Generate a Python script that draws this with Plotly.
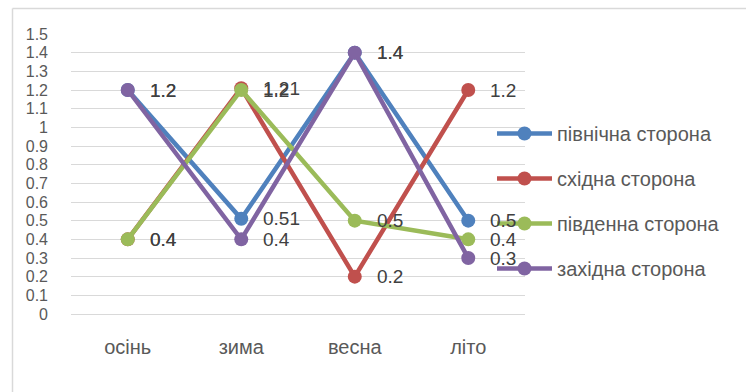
import plotly.graph_objects as go

categories = ["осінь", "зима", "весна", "літо"]
series_names = ["північна сторона", "східна сторона", "південна сторона", "західна сторона"]
north = [1.2, 0.51, 1.4, 0.5]
east = [0.4, 1.21, 0.2, 1.2]
south = [0.4, 1.2, 0.5, 0.4]
west = [1.2, 0.4, 1.4, 0.3]
colors = ["#4F81BD", "#C0504D", "#9BBB59", "#8064A2"]
y_tickvals = [0, 0.1, 0.2, 0.3, 0.4, 0.5, 0.6, 0.7, 0.8, 0.9, 1.0, 1.1, 1.2, 1.3, 1.4, 1.5]
y_ticktext = ["0", "0.1", "0.2", "0.3", "0.4", "0.5", "0.6", "0.7", "0.8", "0.9", "1",
              "1.1", "1.2", "1.3", "1.4", "1.5"]

W, H = 746, 392
L, R, T, B = 71, 221, 34, 78
FONT = "Liberation Sans"

fig = go.Figure()
annotations = []
for name, vals, col in zip(series_names, [north, east, south, west], colors):
    fig.add_trace(go.Scatter(
        x=categories, y=vals, name=name, mode="lines+markers",
        line=dict(color=col, width=4.5),
        marker=dict(color=col, size=14),
        legendgroup=name, cliponaxis=False,
    ))
    for c, v in zip(categories, vals):
        annotations.append(dict(
            x=c, y=v, xref="x", yref="y", text=f"{v:g}", showarrow=False,
            xanchor="left", yanchor="middle", xshift=20,
            font=dict(family=FONT, size=19, color="#404040"),
        ))

pw = W - L - R
ph = H - T - B
def px_x(p):
    return (p - L) / pw
def px_y(p):
    return 1 - (p - T) / ph

shapes = [
    dict(type="line", xref="paper", yref="paper", x0=px_x(12.5), x1=px_x(746),
         y0=px_y(8.5), y1=px_y(8.5), line=dict(color="#D9D9D9", width=1.5)),
    dict(type="line", xref="paper", yref="paper", x0=px_x(12.5), x1=px_x(12.5),
         y0=px_y(8.5), y1=px_y(392), line=dict(color="#D9D9D9", width=1.5)),
]

fig.update_layout(
    width=W, height=H,
    margin=dict(l=L, r=R, t=T, b=B),
    paper_bgcolor="white", plot_bgcolor="white",
    font=dict(family=FONT, size=18, color="#595959"),
    showlegend=True,
    legend=dict(x=px_x(492), y=px_y(114), xanchor="left", yanchor="top",
                bgcolor="rgba(0,0,0,0)", tracegroupgap=16, itemwidth=55,
                font=dict(family=FONT, size=20, color="#595959")),
    annotations=annotations,
    shapes=shapes,
)
fig.update_xaxes(range=[-0.5, 3.5], showgrid=False, zeroline=False, showline=False,
                 ticks="", ticklabelstandoff=19,
                 tickfont=dict(family=FONT, size=20, color="#595959"))
fig.update_yaxes(range=[0, 1.5], tickvals=y_tickvals, ticktext=y_ticktext,
                 showgrid=True, gridcolor="#D9D9D9", gridwidth=1,
                 zeroline=True, zerolinecolor="#D9D9D9", zerolinewidth=1,
                 showline=False, ticks="", ticklabelstandoff=22,
                 tickfont=dict(family=FONT, size=16, color="#595959"))

fig.write_html("out.html")
